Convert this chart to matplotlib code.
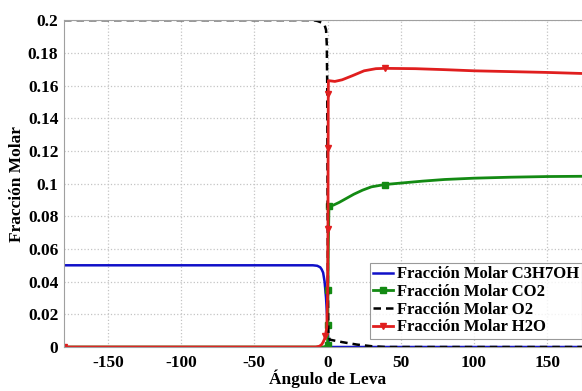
import matplotlib
matplotlib.use("Agg")
import matplotlib.pyplot as plt

# --- Datos ---
ang_c3h7oh = [-180, -100, -20, -10, -7, -5, -4, -3, -2, -1, -0.5, 0, 0.5, 1, 2, 5, 50, 100, 180]
x_c3h7oh = [0.05, 0.05, 0.05, 0.05, 0.0497, 0.0488, 0.0475, 0.0455, 0.040, 0.030, 0.022, 0.013,
            0.005, 0.001, 0.0, 0.0, 0.0, 0.0, 0.0]

ang_co2 = [-180, -100, -10, -3, -1, 0, 0.2, 0.3, 0.5, 1, 4, 8, 13, 18, 24, 30, 39, 50, 65, 80,
           100, 125, 150, 180]
x_co2 = [0.0, 0.0, 0.0, 0.0, 0.0005, 0.001, 0.0135, 0.035, 0.06, 0.0865, 0.0868, 0.0885, 0.091,
         0.0935, 0.096, 0.098, 0.0994, 0.1003, 0.1015, 0.1025, 0.1033, 0.1039, 0.1043, 0.1045]
mark_co2 = [5, 6, 7, 9, 16]

ang_o2 = [-180, -100, -10, -7, -4, -2, -1, -0.5, -0.2, 0, 0.3, 0.6, 1.5, 10, 20, 30, 40, 100, 180]
x_o2 = [0.2, 0.2, 0.2, 0.1995, 0.1985, 0.197, 0.194, 0.185, 0.16, 0.1, 0.03, 0.008, 0.0045,
        0.003, 0.0015, 0.0005, 0.0, 0.0, 0.0]

ang_h2o = [-180, -100, -20, -8, -5.5, -4, -3, -2, -1.5, -0.5, 0, 0.3, 0.4, 0.5, 0.6, 5, 10, 17,
           25, 33, 39, 60, 80, 100, 125, 150, 180]
x_h2o = [0.0, 0.0, 0.0, 0.0, 0.0005, 0.0015, 0.003, 0.005, 0.0067, 0.012, 0.03, 0.072, 0.122,
         0.155, 0.163, 0.1625, 0.1635, 0.166, 0.169, 0.1703, 0.1705, 0.1703, 0.1697, 0.169,
         0.1685, 0.168, 0.1672]
mark_h2o = [0, 8, 11, 12, 13, 20]

labels = ["Fracción Molar C3H7OH", "Fracción Molar CO2", "Fracción Molar O2", "Fracción Molar H2O"]

plt.rcParams['font.family'] = ['Liberation Serif', 'DejaVu Serif']
plt.rcParams['font.weight'] = 'bold'
plt.rcParams['axes.unicode_minus'] = False

fig = plt.figure(figsize=(5.82, 3.91), dpi=100)
ax = fig.add_axes([0.110, 0.1125, 0.9055, 0.836])

ax.plot(ang_c3h7oh, x_c3h7oh, color='#1010c8', lw=1.8, label=labels[0])
ax.plot(ang_co2, x_co2, color='#138a13', lw=2.0, marker='s', ms=4.5,
        markevery=mark_co2, label=labels[1])
ax.plot(ang_o2, x_o2, color='black', lw=1.8, ls=(0, (3, 2)), label=labels[2])
ax.plot(ang_h2o, x_h2o, color='#e01e1e', lw=2.0, marker='v', ms=5,
        markevery=mark_h2o, label=labels[3])

ax.set_xlim(-180, 180)
ax.set_ylim(0, 0.2)
ax.set_xticks([-150, -100, -50, 0, 50, 100, 150])
ax.set_yticks([0, 0.02, 0.04, 0.06, 0.08, 0.1, 0.12, 0.14, 0.16, 0.18, 0.2])
ax.set_yticklabels(['0', '0.02', '0.04', '0.06', '0.08', '0.1', '0.12', '0.14', '0.16', '0.18', '0.2'])
ax.grid(True, ls=':', color='#c4c4c4', lw=0.9)
for s in ax.spines.values():
    s.set_color('#a0a0a0')
    s.set_linewidth(0.8)
ax.tick_params(direction='in', length=0, labelsize=12.5, colors='black')
ax.tick_params(axis='x', pad=6)
ax.tick_params(axis='y', pad=4)

ax.set_xlabel('Ángulo de Leva', fontsize=12.5, fontweight='bold', labelpad=-1)
ax.set_ylabel('Fracción Molar', fontsize=12.5, fontweight='bold', labelpad=2)

leg = ax.legend(loc='upper left', bbox_to_anchor=(370 / 582, 1 - 263 / 391),
                bbox_transform=fig.transFigure, fontsize=12, frameon=True, fancybox=False,
                handlelength=1.2, handletextpad=0.2, labelspacing=0.1, borderpad=0.2,
                borderaxespad=0)
leg.get_frame().set_edgecolor('#808080')
leg.get_frame().set_linewidth(0.8)
for t in leg.get_texts():
    t.set_fontweight('bold')

fig.savefig('out.png', dpi=100)
